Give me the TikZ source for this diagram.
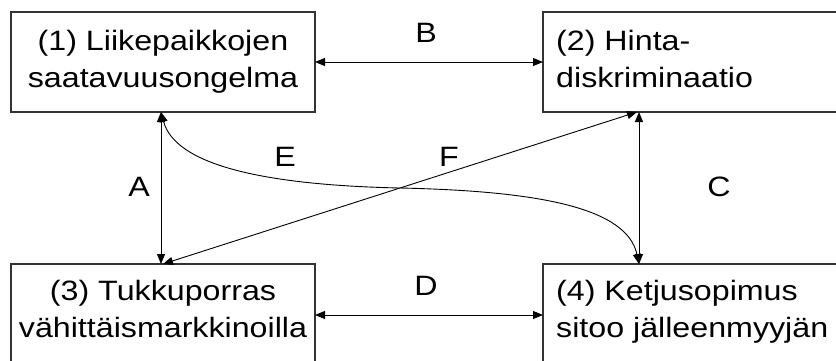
\documentclass[tikz,border=0pt]{standalone}
\usepackage{fontspec}
\setmainfont{Liberation Sans}[FakeStretch=1.15]
\usetikzlibrary{arrows.meta,calc}
\begin{document}
\begin{tikzpicture}[x=1pt,y=-1pt,
  box/.style={draw=black!80,line width=1.3pt,inner sep=0pt,outer sep=0pt,
    minimum width=#1,anchor=north west},
  txt/.style={inner sep=0pt,font=\fontsize{28}{37}\selectfont},
  lbl/.style={inner sep=0pt,font=\fontsize{28}{34}\selectfont},
  link/.style={line width=0.9pt,{Triangle[length=10pt,width=8pt]}-{Triangle[length=10pt,width=8pt]}}]
  \useasboundingbox (0,0) rectangle (836,360);
  \clip (0,0) rectangle (836,360);

  % boxes (right and lower ones run past the frame)
  \node[box=304pt,minimum height=100pt] (tl) at (11,12) {};
  \node[box=310pt,minimum height=100pt] (tr) at (543,12) {};
  \node[box=304pt,minimum height=102pt] (bl) at (11,264) {};
  \node[box=310pt,minimum height=102pt] (br) at (543,264) {};

  % box texts (base anchor sits on the last line)
  \node[txt,align=center,anchor=base] (t1) at (163,87) {(1) Liikepaikkojen\\saatavuusongelma};
  \node[txt,align=left,anchor=base west] (t2) at (556,87) {(2) Hinta-\\diskriminaatio};
  \node[txt,align=center,anchor=base] (t3) at (163,337) {(3) Tukkuporras\\vähittäismarkkinoilla};
  \node[txt,align=left,anchor=base west] (t4) at (556,337) {(4) Ketjusopimus\\sitoo jälleenmyyjän};

  % end points on the box edges
  \coordinate (a1) at ([xshift=150pt]tl.south west);
  \coordinate (a2) at ([xshift=150pt]bl.north west);
  \coordinate (c1) at ([xshift=96pt]tr.south west);
  \coordinate (c2) at ([xshift=96pt]br.north west);
  \coordinate (f1) at ([xshift=152pt]bl.north west);
  \coordinate (f2) at ([xshift=94pt]tr.south west);

  % connectors
  \draw[link] (tl.east) -- (tr.west);
  \draw[link] (bl.east) -- (br.west);
  \draw[link] (a1) -- (a2);
  \draw[link] (c1) -- (c2);
  \draw[link] (f1) -- (f2);
  \draw[link] (a1) .. controls +(14,52) and (260,185) .. (400,188)
                   .. controls (540,191) and ($(c2)+(-12,-56)$) .. (c2);

  % connector labels
  \node[lbl] (lB) at (426,33) {B};
  \node[lbl] (lD) at (426,286) {D};
  \node[lbl] (lA) at (139,187) {A};
  \node[lbl] (lC) at (719,187) {C};
  \node[lbl] (lE) at (285,157) {E};
  \node[lbl] (lF) at (449,157) {F};
\end{tikzpicture}
\end{document}
